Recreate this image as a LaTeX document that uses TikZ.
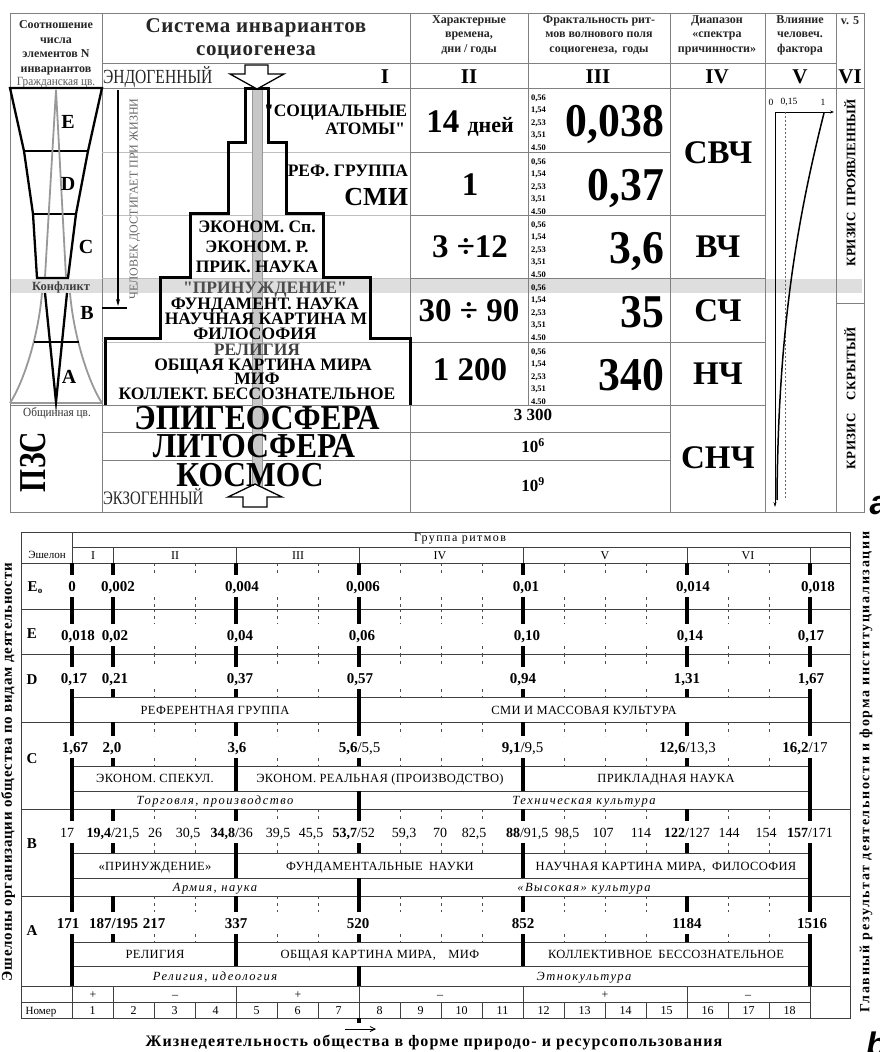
\documentclass[tikz,border=0pt]{standalone}
\usepackage{fontspec}
\setmainfont{Liberation Serif}
\newfontfamily\pyrf{Liberation Serif}
\newfontfamily\cnd[FakeStretch=0.9]{Liberation Serif}
\newfontfamily\cne[FakeStretch=0.93]{Liberation Serif}
\newfontfamily\cndd[FakeStretch=0.78]{Liberation Serif}
\newfontfamily\lsa[LetterSpace=3]{Liberation Serif}
\newfontfamily\lsn[LetterSpace=5]{Liberation Serif}
\newfontfamily\lsm[LetterSpace=7]{Liberation Serif}
\newfontfamily\lsb[LetterSpace=12]{Liberation Serif}
\newfontfamily\sansf{Liberation Sans}
\usetikzlibrary{arrows.meta}
\newcommand\fz[1]{\fontsize{#1}{#1}\selectfont}
\newcommand\fzl[2]{\fontsize{#1}{#2}\selectfont}
\begin{document}
\begin{tikzpicture}[x=1pt,y=-1pt,
  every node/.style={inner sep=0pt, outer sep=0pt},
  tl/.style={draw=black!50, line width=0.7pt},
  tll/.style={draw=black!25, line width=0.7pt},
  bl/.style={draw=black!75, line width=0.7pt},
  thk/.style={draw=black, line width=4pt},
  dsh/.style={draw=black!70, line width=0.6pt, dash pattern=on 3pt off 4pt},
  hd/.style={font=\fzl{12}{14.5}\bfseries, align=center, text=black!85},
  rom/.style={font=\fz{21}\bfseries, text height=14pt, text depth=0pt},
  pyr/.style={font=\fz{17.5}\pyrf\bfseries, text height=12pt, text depth=0pt},
  sphere/.style={font=\fz{35}\cnd\bfseries, text height=23pt, text depth=0pt},
  colii/.style={font=\fz{33}\bfseries, text height=22pt, text depth=0pt},
  coliii/.style={font=\fz{47}\cne\bfseries, anchor=east, text height=32pt, text depth=0pt},
  coliv/.style={font=\fz{33}\bfseries, text height=22pt, text depth=0pt},
  tiny/.style={font=\fz{8.5}\bfseries, anchor=west, text height=6pt, text depth=0pt},
  lett/.style={font=\fz{20}\bfseries, text height=13.5pt, text depth=0pt},
  val/.style={font=\fz{15}\bfseries, text height=10.5pt, text depth=0pt},
  valr/.style={font=\fz{15}, text height=10.5pt, text depth=0pt},
  vb/.style={font=\fz{14}, text height=10pt, text depth=0pt},
  vbb/.style={font=\fz{14}\bfseries, text height=10pt, text depth=0pt},
  boxt/.style={font=\fz{12.5}\lsa, text height=8.5pt, text depth=0pt},
  ital/.style={font=\fz{12.5}\lsb\itshape, text height=8.5pt, text depth=0pt},
  sm/.style={font=\fz{12}, text height=8.5pt, text depth=0pt},
  rowl/.style={font=\fz{15}\bfseries, text height=10.5pt, text depth=0pt}
]
\useasboundingbox (0,0) rectangle (880,1052);
\fill[white] (0,0) rectangle (880,1052);

% ================= TOP TABLE =================
\fill[black!13] (10,279) rectangle (862,293);
\draw[tl] (10,13) rectangle (864,512);
\draw[tl] (102,13) -- (102,512);
\draw[tl] (410,13) -- (410,512);
\draw[tl] (528,13) -- (528,405);
\draw[tl] (670,13) -- (670,512);
\draw[tl] (765,13) -- (765,512);
\draw[tl] (836,13) -- (836,512);
\draw[tl] (102,63) -- (836,63);
\draw[tl] (10,88) -- (864,88);
\draw[tll] (102,152) -- (410,152);
\draw[tl] (410,152) -- (670,152);
\foreach \y in {215,278,342} {\draw[tll] (102,\y) -- (410,\y); \draw[tl] (410,\y) -- (765,\y);}
\draw[tl] (10,405) -- (765,405);
\draw[tl] (102,432) -- (670,432);
\draw[tl] (102,460) -- (670,460);
\draw[tl] (836,303) -- (864,303);

% header texts
\node[hd] (h0) at (56,48) {Соотношение\\числа\\элементов N\\инвариантов};
\node[font=\fzl{21}{23}\lsa\bfseries, align=center, text=black!85] (h1) at (256,39) {Система инвариантов\\социогенеза};
\node[hd] (h2) at (469,35) {Характерные\\времена,\\дни / годы};
\node[hd] (h3) at (599,35) {Фрактальность рит-\\мов волнового поля\\социогенеза,\, годы};
\node[hd] (h4) at (717,35) {Диапазон\\«спектра\\причинности»};
\node[hd] (h5) at (800,35) {Влияние\\человеч.\\фактора};
\node[hd] (h6) at (850,21) {v. 5};
\node[font=\fz{12.5}\cnd, text=black!65] (grc) at (56,83) {Гражданская цв.};

\node[font=\fz{20}\cndd, text=black!85, anchor=west, text height=14pt, text depth=0pt] (endo) at (103,76) {ЭНДОГЕННЫЙ};
\node[rom] (r1) at (385,76) {I};
\node[rom] (r2) at (469,76) {II};
\node[rom] (r3) at (598,76) {III};
\node[rom] (r4) at (717,76) {IV};
\node[rom] (r5) at (800,76) {V};
\node[rom] (r6) at (850,76) {VI};

% gray bar and pyramid
\fill[black!22] (252,90) rectangle (262,490);
\draw[black!40, line width=0.5pt] (252,90) -- (252,490) (262,90) -- (262,490);
\draw[line width=3pt, line join=miter] (105,405) -- (105,338) -- (160,338) -- (160,277) -- (190,277) -- (190,213) -- (228,213) -- (228,142) -- (245,142) -- (245,88) -- (268,88) -- (268,142) -- (286,142) -- (286,213) -- (323,213) -- (323,277) -- (370,277) -- (370,338) -- (410,338) -- (410,405);
\draw[fill=white, line width=1.3pt, line join=miter] (245,65) -- (268,65) -- (268,74) -- (284,74) -- (257,89) -- (230,74) -- (245,74) -- cycle;
\draw[fill=white, line width=1.3pt, line join=miter] (255,484) -- (282,497) -- (267,497) -- (267,507) -- (243,507) -- (243,497) -- (228,497) -- cycle;

% pyramid texts
\node[pyr, anchor=east] (p1) at (407,110) {\char34СОЦИАЛЬНЫЕ};
\node[pyr, anchor=east] (p2) at (405,128) {АТОМЫ\char34};
\node[pyr, anchor=east] (p3) at (408,170) {РЕФ. ГРУППА};
\node[font=\fz{26}\bfseries, anchor=east, text height=17pt, text depth=0pt] (p4) at (408,197) {СМИ};
\node[pyr] (p5) at (257,226) {ЭКОНОМ. Сп.};
\node[pyr] (p6) at (257,246) {ЭКОНОМ. Р.};
\node[pyr] (p7) at (257,266) {ПРИК. НАУКА};
\node[pyr, text=black!70] (p8) at (265,287) {\char34ПРИНУЖДЕНИЕ\char34};
\node[pyr] (p9) at (265,303) {ФУНДАМЕНТ. НАУКА};
\node[pyr] (p10) at (266,318) {НАУЧНАЯ КАРТИНА М};
\node[pyr] (p11) at (255,333) {ФИЛОСОФИЯ};
\node[pyr, text=black!75] (p12) at (257,349) {РЕЛИГИЯ};
\node[pyr] (p13) at (263,364) {ОБЩАЯ КАРТИНА МИРА};
\node[pyr] (p14) at (257,378) {МИФ};
\node[pyr] (p15) at (257,393) {КОЛЛЕКТ. БЕССОЗНАТЕЛЬНОЕ};
\node[sphere] (s1) at (257,418) {ЭПИГЕОСФЕРА};
\node[sphere] (s2) at (254,446) {ЛИТОСФЕРА};
\node[sphere] (s3) at (250,475) {КОСМОС};
\node[font=\fz{19}\cndd, text=black!85, anchor=west, text height=13pt, text depth=0pt] (exo) at (103,498) {ЭКЗОГЕННЫЙ};

% left column
\draw[line width=2.3pt, line join=miter] (10,88) -- (24,151) -- (33,214) -- (37,278) -- (68,278) -- (76,214) -- (88,151) -- (102,88) -- cycle;
\draw[line width=1.5pt] (24,151) -- (88,151) (33,214) -- (76,214);
\draw[black!40, line width=1.8pt] (45,277) -- (56,90) -- (66,277);
\draw[black!40, line width=1.8pt] (42,293) .. controls (38,340) and (22,385) .. (10,403);
\draw[black!40, line width=1.8pt] (70,293) .. controls (74,340) and (90,385) .. (102,403);
\draw[black!40, line width=2pt] (10,403) -- (102,403);
\draw[line width=2.3pt, line join=miter] (45,293) -- (56,402) -- (67,293);
\draw[line width=1.5pt] (34,342) -- (79,342);
\node[lett] (lE) at (68,122) {E};
\node[lett] (lD) at (68,184) {D};
\node[lett] (lC) at (86,247) {C};
\node[lett] (lB) at (87,313) {B};
\node[lett] (lA) at (69,377) {A};
\node[font=\fz{12.5}\bfseries, text=black!75] (konf) at (61,287) {Конфликт};
\node[font=\fz{12.5}\cnd, text=black!80] (obsh) at (57,413) {Общинная цв.};
\node[font=\fz{38}\cndd\bfseries, rotate=90] (pzs) at (33,462) {ПЗС};

% human arrow
\coordinate (hTop) at (118,90);
\coordinate (hBot) at (118,306);
\draw[line width=1.2pt, -{Stealth[length=7pt,width=4pt]}] (hTop) -- (hBot);
\draw[line width=2pt] (102,308) -- (127,308);
\node[font=\fz{12}, text=black!60, rotate=90] (chel) at (135,199) {ЧЕЛОВЕК ДОСТИГАЕТ ПРИ ЖИЗНИ};

% column II
\node[colii] (c21) at (470,121) {14 {\fz{22}дней}};
\node[colii] (c22) at (470,184) {1};
\node[colii] (c23) at (470,246) {3 ÷12};
\node[colii] (c24) at (469,310) {30 ÷ 90};
\node[colii] (c25) at (470,369) {1 200};

% column III
\foreach \t [count=\i] in {88,152,215,278,342} {
  \node[tiny] (ta\i) at (531,\t+9) {0,56};
  \node[tiny] (tb\i) at (531,\t+21.5) {1,54};
  \node[tiny] (tc\i) at (531,\t+34) {2,53};
  \node[tiny] (td\i) at (531,\t+46.5) {3,51};
  \node[tiny] (te\i) at (531,\t+59) {4.50};
}
\node[coliii] (c31) at (664,120) {0,038};
\node[coliii] (c32) at (664,184) {0,37};
\node[coliii] (c33) at (664,247) {3,6};
\node[coliii] (c34) at (664,311) {35};
\node[coliii] (c35) at (664,374) {340};
\node[font=\fz{17}\bfseries] (c36) at (533,415) {3 300};
\node[font=\fz{17}\bfseries] (c37) at (533,446) {10$^{\mathbf 6}$};
\node[font=\fz{17}\bfseries] (c38) at (533,485) {10$^{\mathbf 9}$};

% column IV
\node[coliv] (c41) at (718,152) {СВЧ};
\node[coliv] (c42) at (718,246) {ВЧ};
\node[coliv] (c43) at (718,310) {СЧ};
\node[coliv] (c44) at (718,373) {НЧ};
\node[coliv] (c45) at (718,457) {СНЧ};

% column V graph
\coordinate (o) at (775,112);
\coordinate (xe) at (834,112);
\coordinate (ye) at (775,507);
\draw[line width=0.7pt, -{Stealth[length=4pt,width=3pt]}] (o) -- (xe);
\draw[line width=0.7pt, -{Stealth[length=5pt,width=3pt]}] (o) -- (ye);
\draw[black!60, line width=0.5pt, dash pattern=on 2pt off 2pt] (785,112) -- (785,500);
\draw[line width=1.5pt] (824,113) .. controls (797,220) and (778,330) .. (777,500);
\node[font=\fz{9.5}] (g0) at (771,102) {0};
\node[font=\fz{9.5}] (g1) at (789,102) {0,15};
\node[font=\fz{9.5}] (g2) at (823,102) {1};

% column VI
\node[font=\fz{13}\bfseries, rotate=90] (k1) at (850,183) {КРИЗИС\enspace ПРОЯВЛЕННЫЙ};
\node[font=\fz{13}\lsa\bfseries, rotate=90] (k2) at (850,398) {КРИЗИС\quad СКРЫТЫЙ};

\node[font=\fz{34}\sansf\bfseries\itshape] (la) at (879,506) {a};
\node[font=\fz{34}\sansf\bfseries\itshape, anchor=base west] (lb) at (866,1056) {b};

% ================= BOTTOM TABLE =================
\draw[bl] (21,532) rectangle (850,1018);
\draw[bl] (72,532) -- (72,563);
\draw[bl] (72,547) -- (850,547);
\draw[bl] (21,563) -- (850,563);
\foreach \y in {609,654,722,809,896,986} \draw[bl] (21,\y) -- (850,\y);
\draw[bl] (21,1002) -- (810,1002);
\foreach \y in {697,766,791,853,878,942,966} \draw[bl] (72,\y) -- (810,\y);
\foreach \k in {1,4,7,11,15,18} \draw[bl] ({72+41*\k},547) -- ({72+41*\k},563);
\foreach \k in {0,1,4,7,11,15,18} \draw[bl] ({72+41*\k},986) -- ({72+41*\k},1002);
\foreach \k in {0,...,18} \draw[bl] ({72+41*\k},1002) -- ({72+41*\k},1018);

\foreach \t/\v/\b in {563/586/609, 609/635/654, 654/678/697, 722/747/766, 809/832/853, 896/923/942} {
  \foreach \k in {2,3,5,6,8,9,10,12,13,14,16,17} {
    \draw[dsh] ({72+41*\k},\t) -- ({72+41*\k},\v-11);
    \draw[dsh] ({72+41*\k},\v+11) -- ({72+41*\k},\b);
  }
  \foreach \k in {0,1,4,7,11,15,18} {
    \draw[thk] ({72+41*\k},\t) -- ({72+41*\k},\v-11);
    \draw[thk] ({72+41*\k},\v+11) -- ({72+41*\k},\b);
  }
}
\foreach \k in {0,7,18} \draw[thk] ({72+41*\k},697) -- ({72+41*\k},722);
\foreach \a/\b in {766/791, 853/878, 942/966} {
  \foreach \k in {0,4,11,18} \draw[thk] ({72+41*\k},\a) -- ({72+41*\k},\b);
}
\foreach \a/\b in {791/809, 878/896, 966/986} {
  \foreach \k in {0,7,18} \draw[thk] ({72+41*\k},\a) -- ({72+41*\k},\b);
}
\draw[thk] (359,1018) -- (359,1023);

% header labels
\node[font=\fz{11}] (esh) at (47,555) {Эшелон};
\node[font=\fz{12}\lsb] (grp) at (460,539) {Группа ритмов};
\foreach \x/\r [count=\i] in {93/I,175/II,298/III,440/IV,605/V,748/VI} \node[sm] (gr\i) at (\x,555) {\r};
\foreach \x/\r [count=\i] in {93/+,175/–,298/+,440/–,605/+,748/–} \node[sm] (pm\i) at (\x,994) {\r};
\node[font=\fz{11}, text height=8pt, text depth=0pt] (nom) at (41,1010) {Номер};
\foreach \k in {1,...,18} \node[sm] (nn\k) at ({72+41*\k-20.5},1010) {\k};

% row labels
\node[rowl] (rE0) at (35,586) {E\raisebox{-2pt}{\fz{9}o}};
\node[rowl] (rE) at (32,633) {E};
\node[rowl] (rD) at (32,679) {D};
\node[rowl] (rC) at (32,758) {C};
\node[rowl] (rB) at (32,843) {B};
\node[rowl] (rA) at (32,930) {A};

% values
\foreach \x/\s [count=\i] in {72/0,118/{0,002},242/{0,004},363/{0,006},526/{0,01},693/{0,014},818/{0,018}} \node[val] (ve\i) at (\x,586) {\s};
\foreach \x/\s [count=\i] in {78/{0,018},115/{0,02},240/{0,04},362/{0,06},527/{0,10},690/{0,14},811/{0,17}} \node[val] (vf\i) at (\x,635) {\s};
\foreach \x/\s [count=\i] in {74/{0,17},115/{0,21},240/{0,37},360/{0,57},523/{0,94},687/{1,31},811/{1,67}} \node[val] (vd\i) at (\x,678) {\s};
\foreach \x/\s [count=\i] in {75/{1,67},112/{2,0},237/{3,6}} \node[val] (vc\i) at (\x,747) {\s};
\foreach \x/\s/\r [count=\i] in {359/{5,6}/{5,5},522/{9,1}/{9,5},687/{12,6}/{13,3},810/{16,2}/{17}} {
  \node[val, anchor=east] (vcs\i) at (\x-1.5,747) {\s};
  \node[valr, anchor=west] (vcr\i) at (\x-1.5,747) {/\r};
}
\foreach \x/\s [count=\i] in {67/17,155/26,188/{30,5},278/{39,5},311/{45,5},404/{59,3},440/70,474/{82,5},567/{98,5},603/107,641/114,729/144,766/154} \node[vb] (vb\i) at (\x,832) {\s};
\foreach \x/\s/\r [count=\i] in {113/{19,4}/{21,5},237/{34,8}/{36},359/{53,7}/{52},522/{88}/{91,5},687/{122}/{127},810/{157}/{171}} {
  \node[vbb, anchor=east] (vbs\i) at (\x-2,832) {\s};
  \node[vb, anchor=west] (vbr\i) at (\x-2,832) {/\r};
}
\foreach \x/\s [count=\i] in {68/171,154/217,236/337,358/520,523/852,687/1184,812/1516} \node[val] (va\i) at (\x,923) {\s};
\node[val, anchor=east] (vas) at (111.5,923) {187};
\node[val, anchor=west] (var) at (111.5,923) {/195};

% box texts
\node[boxt] (bd1) at (215,710) {РЕФЕРЕНТНАЯ ГРУППА};
\node[boxt] (bd2) at (584,710) {СМИ И МАССОВАЯ КУЛЬТУРА};
\node[boxt] (bc1) at (155,778) {ЭКОНОМ. СПЕКУЛ.};
\node[boxt] (bc2) at (380,778) {ЭКОНОМ. РЕАЛЬНАЯ (ПРОИЗВОДСТВО)};
\node[boxt] (bc3) at (666,778) {ПРИКЛАДНАЯ НАУКА};
\node[ital] (ic1) at (215,800) {Торговля, производство};
\node[ital] (ic2) at (584,800) {Техническая культура};
\node[boxt] (bb1) at (155,866) {«ПРИНУЖДЕНИЕ»};
\node[boxt] (bb2) at (380,866) {ФУНДАМЕНТАЛЬНЫЕ\enspace НАУКИ};
\node[boxt] (bb3) at (666,866) {НАУЧНАЯ КАРТИНА МИРА,\enspace ФИЛОСОФИЯ};
\node[ital] (ib1) at (215,887) {Армия, наука};
\node[ital] (ib2) at (584,887) {«Высокая» культура};
\node[boxt] (ba1) at (155,954) {РЕЛИГИЯ};
\node[boxt] (ba2) at (380,954) {ОБЩАЯ КАРТИНА МИРА,\quad МИФ};
\node[boxt] (ba3) at (666,954) {КОЛЛЕКТИВНОЕ\enspace БЕССОЗНАТЕЛЬНОЕ};
\node[ital] (ia1) at (215,976) {Религия, идеология};
\node[ital] (ia2) at (584,976) {Этнокультура};

% side labels and caption
\node[font=\fz{15}\lsn\bfseries, rotate=90] (left) at (8,772) {Эшелоны организации общества по видам деятельности};
\node[font=\fz{14}\lsb\bfseries, rotate=90] (right) at (866,772) {Главный результат деятельности и форма институциализации};
\coordinate (arA) at (345,1029);
\coordinate (arB) at (376,1029);
\draw[line width=0.8pt, -{Straight Barb[length=5pt,width=5pt]}] (arA) -- (arB);
\node[font=\fz{16}\lsm\bfseries] (cap) at (434,1042) {Жизнедеятельность общества в форме природо- и ресурсопользования};
\end{tikzpicture}
\end{document}
